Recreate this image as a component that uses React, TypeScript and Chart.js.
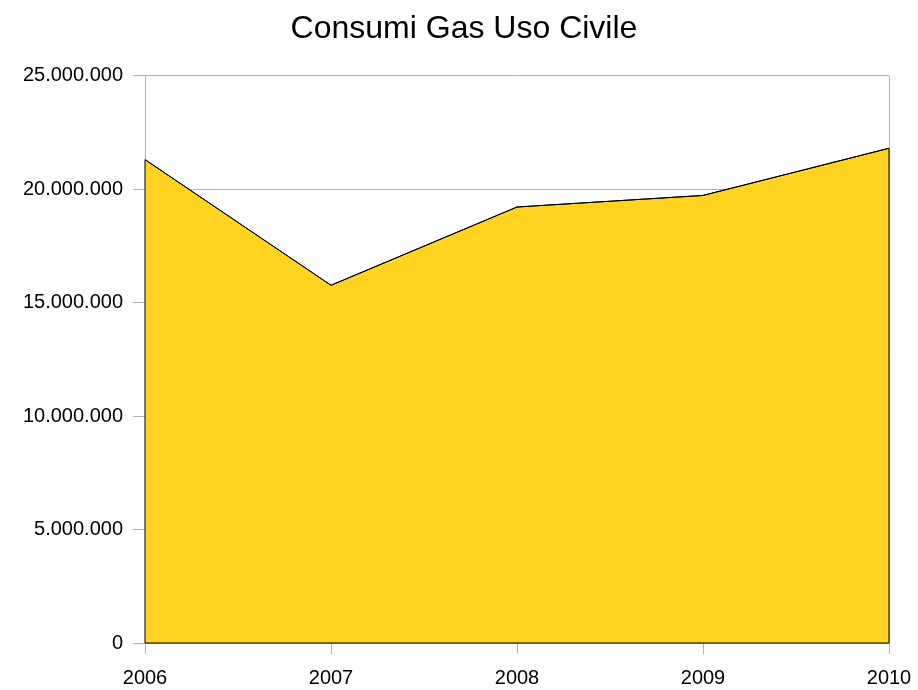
import React, { useEffect, useRef } from "react";
import { Chart, registerables } from "chart.js";

Chart.register(...registerables);

const years = ["2006", "2007", "2008", "2009", "2010"];
const consumi = [21310000, 15770000, 19220000, 19730000, 21810000];
const yTicks = [0, 5000000, 10000000, 15000000, 20000000, 25000000];
const titleText = "Consumi Gas Uso Civile";

const FONT = "'Liberation Sans', Arial, sans-serif";
const fmt = (v: number) => String(Math.round(v)).replace(/\B(?=(\d{3})+(?!\d))/g, ".");

const outlinePlugin = {
  id: "areaOutline",
  afterDatasetsDraw(chart: any) {
    const meta = chart.getDatasetMeta(0);
    const pts = meta.data;
    if (!pts || !pts.length) return;
    const y0 = chart.scales.y.getPixelForValue(0);
    const ctx = chart.ctx;
    ctx.save();
    ctx.beginPath();
    ctx.moveTo(pts[0].x, y0);
    pts.forEach((p: any) => ctx.lineTo(p.x, p.y));
    ctx.lineTo(pts[pts.length - 1].x, y0);
    ctx.closePath();
    ctx.strokeStyle = "#000000";
    ctx.lineWidth = 1;
    ctx.stroke();
    ctx.restore();
  },
};

export default function App() {
  const ref = useRef<HTMLCanvasElement | null>(null);
  useEffect(() => {
    document.body.style.margin = "0";
    const c = ref.current;
    if (!c) return;
    const chart = new Chart(c, {
      type: "line",
      data: {
        labels: years,
        datasets: [
          {
            label: titleText,
            data: consumi,
            fill: "origin",
            backgroundColor: "#FFD320",
            borderColor: "#000000",
            borderWidth: 1,
            pointRadius: 0,
            tension: 0,
          },
        ],
      },
      options: {
        animation: false,
        responsive: false,
        devicePixelRatio: 1,
        layout: { padding: { left: 10, right: 0, top: 0, bottom: 1 } },
        plugins: {
          legend: { display: false },
          tooltip: { enabled: false },
          title: {
            display: true,
            text: titleText,
            color: "#000000",
            font: { family: FONT, size: 32, weight: "normal" },
            padding: { top: 9.5, bottom: 28 },
          },
        },
        scales: {
          x: {
            offset: false,
            grid: {
              display: true,
              drawOnChartArea: true,
              color: (ctx: any) =>
                ctx.index === 0 || ctx.index === years.length - 1 ? "#b3b3b3" : "rgba(0,0,0,0)",
              tickColor: "#b3b3b3",
              tickLength: 11,
              lineWidth: 1,
            },
            border: { display: false },
            ticks: {
              color: "#000000",
              padding: 12,
              maxRotation: 0,
              font: { family: FONT, size: 20 },
            },
            afterFit: (s: any) => {
              s.height = 46;
              s.paddingRight = 0;
              s.paddingLeft = 0;
            },
          },
          y: {
            min: 0,
            max: 25000000,
            afterBuildTicks: (s: any) => {
              s.ticks = yTicks.map((v) => ({ value: v }));
            },
            grid: {
              color: "#b3b3b3",
              tickColor: "#b3b3b3",
              tickLength: 12,
              lineWidth: 1,
            },
            border: { display: true, color: "#b3b3b3" },
            ticks: {
              color: "#000000",
              padding: 10,
              callback: (v: any) => fmt(Number(v)),
              font: { family: FONT, size: 20 },
            },
            afterFit: (s: any) => {
              s.width = 135;
            },
          },
          yRight: {
            position: "right",
            display: true,
            min: 0,
            max: 25000000,
            grid: { display: false, drawTicks: false },
            border: { display: false },
            ticks: { display: false },
            afterFit: (s: any) => {
              s.width = 29;
            },
          },
        },
      },
      plugins: [outlinePlugin],
    });
    return () => chart.destroy();
  }, []);
  return <canvas ref={ref} width={918} height={690} style={{ display: "block" }} />;
}
